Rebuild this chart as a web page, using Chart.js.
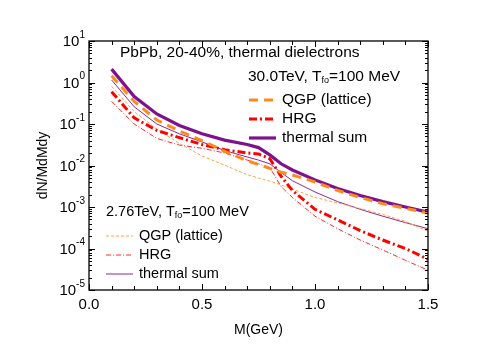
<!DOCTYPE html>
<html><head><meta charset="utf-8">
<script src="https://cdn.jsdelivr.net/npm/chart.js@4"></script>
<style>html,body{margin:0;padding:0;background:#fff}#wrap{width:498px;height:349px}</style>
</head><body><div id="wrap"><canvas id="c" width="498" height="349"></canvas></div>
<script>
const masses = [0.1,0.2,0.3,0.4,0.5,0.6,0.7,0.75,0.8,0.85,0.9,1.0,1.1,1.2,1.3,1.4,1.5];
const qgp30  = [1.45,0.35,0.125,0.068,0.04,0.022,0.013,0.0105,0.0085,0.0069,0.0059,0.004,0.0025,0.0017,0.0012,0.00093,0.00072];
const hrg30  = [0.6,0.14,0.07,0.047,0.032,0.024,0.020,0.019,0.0145,0.0055,0.0025,0.00088,0.00049,0.00027,0.00016,0.0001,0.000055];
const sum30  = [2.1,0.46,0.175,0.092,0.058,0.041,0.032,0.027,0.018,0.011,0.0078,0.0045,0.0028,0.0019,0.00135,0.001,0.00075];
const qgp276 = [0.8,0.2,0.075,0.034,0.017,0.0102,0.006,0.005,0.0042,0.0034,0.0027,0.0017,0.00125,0.00092,0.00066,0.00045,0.00026];
const hrg276 = [0.35,0.1,0.045,0.031,0.026,0.02,0.0135,0.011,0.009,0.0031,0.0017,0.0006,0.0003,0.00016,0.000092,0.000052,0.00003];
const sum276 = [1.15,0.26,0.1,0.058,0.037,0.023,0.016,0.0135,0.011,0.0068,0.0043,0.0023,0.00135,0.00088,0.0006,0.00042,0.0003];
const xTicks = [0.0,0.5,1.0,1.5];
const yExponents = [1,0,-1,-2,-3,-4,-5];
const labels30 = ['QGP (lattice)','HRG','thermal sum'];
const labels276 = ['QGP (lattice)','HRG','thermal sum'];

const FONT = '"Liberation Sans", Arial, sans-serif';
const pts = arr => arr.map((v,i)=>({x:masses[i], y:v}));
const ORANGE='#ff8a1c', RED='#ff0000', PURPLE='#7d128c';
const datasets = [
  {label:labels30[0], data:pts(qgp30), borderColor:ORANGE, borderWidth:3, borderDash:[9,6]},
  {label:labels30[1], data:pts(hrg30), borderColor:RED, borderWidth:3, borderDash:[8,3,2,3]},
  {label:labels30[2], data:pts(sum30), borderColor:PURPLE, borderWidth:3.2},
  {label:labels276[0], data:pts(qgp276), borderColor:'#ffa040', borderWidth:1, borderDash:[3,2]},
  {label:labels276[1], data:pts(hrg276), borderColor:'#ff2a2a', borderWidth:1, borderDash:[5,2,1,2]},
  {label:labels276[2], data:pts(sum276), borderColor:'#8a2896', borderWidth:1},
].map(d=>Object.assign({pointRadius:0, tension:0, fill:false}, d));

function txtSub(ctx, parts, x, y, size){
  ctx.textBaseline='middle'; ctx.textAlign='left';
  ctx.font = size+'px '+FONT; ctx.fillText(parts[0], x, y); x += ctx.measureText(parts[0]).width;
  ctx.font = Math.round(size*0.6)+'px '+FONT; ctx.fillText(parts[1], x, y+4); x += ctx.measureText(parts[1]).width;
  ctx.font = size+'px '+FONT; ctx.fillText(parts[2], x, y);
}

const deco = {
  id:'deco',
  afterDraw(chart){
    const ctx = chart.ctx, a = chart.chartArea, xs = chart.scales.x, ys = chart.scales.y;
    ctx.save();
    ctx.strokeStyle='#000'; ctx.lineWidth=1.3; ctx.setLineDash([]);
    ctx.strokeRect(a.left, a.top, a.right-a.left, a.bottom-a.top);
    ctx.lineWidth=1;
    for(let k=0;k<=15;k++){
      const v=k/10, px=Math.round(xs.getPixelForValue(v))+0.5, len = (k%5===0)?6:4;
      ctx.beginPath(); ctx.moveTo(px,a.bottom); ctx.lineTo(px,a.bottom-len);
      ctx.moveTo(px,a.top); ctx.lineTo(px,a.top+len); ctx.stroke();
    }
    for(let e=-5;e<=1;e++){
      for(let m=1;m<=9;m++){
        const v=m*Math.pow(10,e); if(v>10.0001) break;
        const py=Math.round(ys.getPixelForValue(v))+0.5, len=(m===1)?6:3;
        ctx.beginPath(); ctx.moveTo(a.left,py); ctx.lineTo(a.left+len,py);
        ctx.moveTo(a.right,py); ctx.lineTo(a.right-len,py); ctx.stroke();
      }
    }
    ctx.fillStyle='#000';
    ctx.font='15px '+FONT; ctx.textAlign='center'; ctx.textBaseline='middle';
    xTicks.forEach(v=>ctx.fillText(v.toFixed(1), xs.getPixelForValue(v), a.bottom+15));
    yExponents.forEach(e=>{
      const py=ys.getPixelForValue(Math.pow(10,e));
      ctx.font='15px '+FONT; const w1=ctx.measureText('10').width;
      ctx.font='10px '+FONT; const es=String(e); const w2=ctx.measureText(es).width;
      const xr=a.left-4, x0=xr-w1-w2;
      ctx.textAlign='left'; ctx.textBaseline='middle';
      ctx.font='15px '+FONT; ctx.fillText('10', x0, py+1);
      ctx.font='10px '+FONT; ctx.fillText(es, x0+w1, py-6);
    });
    ctx.font='14px '+FONT; ctx.textAlign='center'; ctx.textBaseline='middle';
    ctx.fillText('M(GeV)', (a.left+a.right)/2, a.bottom+40);
    ctx.save(); ctx.translate(43,(a.top+a.bottom)/2); ctx.rotate(-Math.PI/2);
    ctx.fillText('dN/MdMdy',0,0); ctx.restore();
    ctx.font='15.5px '+FONT; ctx.textAlign='left'; ctx.textBaseline='middle';
    ctx.fillText('PbPb, 20-40%, thermal dielectrons', 120, 53);
    txtSub(ctx, ['30.0TeV, T','fo','=100 MeV'], 248, 77, 15.5);
    txtSub(ctx, ['2.76TeV, T','fo','=100 MeV'], 106, 212, 14.5);
    const leg=(dsIdx, x0, x1, y, label, size)=>{
      const d=chart.data.datasets[dsIdx];
      ctx.save(); ctx.strokeStyle=d.borderColor; ctx.lineWidth=d.borderWidth; ctx.setLineDash(d.borderDash||[]);
      ctx.beginPath(); ctx.moveTo(x0,y); ctx.lineTo(x1,y); ctx.stroke(); ctx.restore();
      ctx.fillStyle='#000'; ctx.font=size+'px '+FONT; ctx.textAlign='left'; ctx.textBaseline='middle';
      ctx.fillText(label, x1+6, y);
    };
    leg(0,249,276,100,labels30[0],15.5);
    leg(1,249,276,119,labels30[1],15.5);
    leg(2,249,276,138,labels30[2],15.5);
    leg(3,106,133,236,labels276[0],14.5);
    leg(4,106,133,255,labels276[1],14.5);
    leg(5,106,133,274,labels276[2],14.5);
    ctx.restore();
  }
};

new Chart(document.getElementById('c'), {
  type:'line',
  data:{datasets},
  options:{
    responsive:false, animation:false, devicePixelRatio:1,
    layout:{padding:{left:89, top:41, right:70, bottom:59}},
    plugins:{legend:{display:false}, tooltip:{enabled:false}},
    scales:{
      x:{type:'linear', min:0, max:1.5, display:false},
      y:{type:'logarithmic', min:1e-5, max:10, display:false}
    }
  },
  plugins:[deco]
});
</script></body></html>
